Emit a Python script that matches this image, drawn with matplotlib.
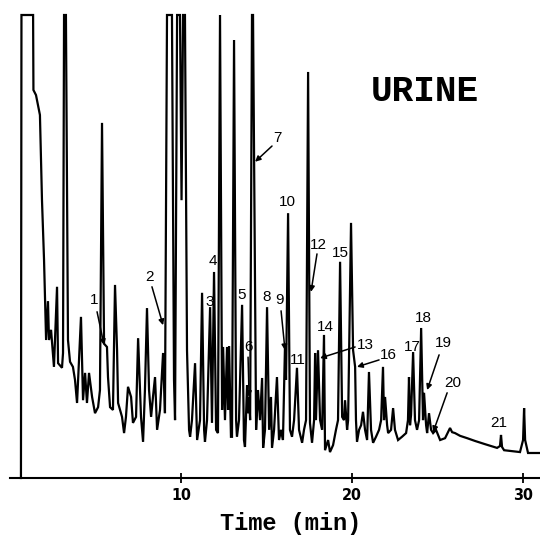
import matplotlib
matplotlib.use("Agg")
import matplotlib.pyplot as plt

# chromatogram trace (time in min, signal in % of full scale)
ret_time = [0.64, 0.67, 1.35, 1.37, 1.52, 1.75, 1.87, 1.99, 2.11, 2.22, 2.28, 2.40,
            2.57, 2.75, 2.81, 3.04, 3.10, 3.16, 3.27, 3.39, 3.51, 3.68, 3.80, 3.92,
            4.15, 4.27, 4.39, 4.50, 4.62, 4.80, 4.97, 5.15, 5.26, 5.38, 5.50, 5.67,
            5.73, 5.85, 6.02, 6.14, 6.26, 6.32, 6.55, 6.67, 6.78, 6.90, 7.08, 7.19,
            7.37, 7.49, 7.66, 7.78, 7.89, 8.01, 8.13, 8.25, 8.36, 8.48, 8.60, 8.77,
            8.95, 9.06, 9.18, 9.47, 9.59, 9.65, 9.77, 9.94, 10.03, 10.12, 10.23, 10.35,
            10.47, 10.53, 10.64, 10.82, 10.94, 11.11, 11.23, 11.35, 11.40, 11.52, 11.70, 11.81,
            11.93, 12.05, 12.16, 12.28, 12.40, 12.46, 12.57, 12.69, 12.75, 12.81, 12.92, 12.98,
            13.10, 13.22, 13.27, 13.39, 13.57, 13.68, 13.74, 13.86, 13.92, 13.98, 14.04, 14.15,
            14.21, 14.39, 14.50, 14.62, 14.74, 14.80, 14.91, 15.03, 15.15, 15.26, 15.32, 15.44,
            15.61, 15.73, 15.85, 15.96, 16.08, 16.14, 16.26, 16.37, 16.49, 16.61, 16.78, 16.90,
            17.08, 17.19, 17.31, 17.43, 17.54, 17.66, 17.78, 17.84, 17.89, 18.01, 18.13, 18.25,
            18.36, 18.42, 18.60, 18.71, 18.89, 19.06, 19.18, 19.30, 19.42, 19.53, 19.59, 19.71,
            19.77, 19.94, 20.06, 20.18, 20.23, 20.29, 20.41, 20.53, 20.64, 20.76, 20.88, 20.99,
            21.11, 21.23, 21.40, 21.58, 21.70, 21.81, 21.87, 21.93, 22.05, 22.11, 22.28, 22.40,
            22.51, 22.69, 22.92, 23.16, 23.27, 23.33, 23.39, 23.45, 23.57, 23.68, 23.80, 23.92,
            24.04, 24.15, 24.21, 24.33, 24.39, 24.50, 24.62, 24.74, 24.91, 25.15, 25.44, 25.61,
            25.73, 25.85, 26.02, 26.32, 26.73, 27.19, 27.78, 28.48, 28.65, 28.71, 28.77, 28.89,
            29.36, 29.82, 30.00, 30.06, 30.12, 30.29, 30.99]
signal = [0.0, 100, 100, 83.8, 82.7, 78.4, 60.0, 47.1, 29.8, 38.2, 29.8, 32.0,
          24.0, 41.3, 24.8, 23.8, 27.0, 100, 100, 29.8, 25.1, 24.0, 21.2, 16.2,
          34.8, 16.8, 22.7, 16.2, 22.7, 17.5, 14.0, 15.3, 19.0, 76.7, 29.0, 28.3,
          21.8, 15.3, 14.7, 41.7, 27.6, 16.2, 13.2, 9.7, 13.2, 19.7, 17.5, 11.9,
          13.2, 30.2, 13.2, 7.8, 19.0, 36.7, 19.0, 13.2, 17.5, 21.8, 10.4, 14.7,
          27.0, 14.0, 100, 100, 21.2, 12.5, 100, 100, 60.0, 100, 100, 27.6,
          10.4, 8.9, 12.5, 24.8, 8.2, 12.5, 40.0, 10.4, 7.8, 12.5, 36.9, 11.9,
          44.5, 10.4, 9.7, 100, 14.7, 28.3, 12.5, 28.3, 14.7, 28.5, 8.9, 8.9,
          94.6, 12.5, 8.9, 12.5, 37.4, 8.2, 6.7, 20.0, 14.0, 17.5, 12.5, 100,
          100, 10.4, 19.0, 12.5, 21.6, 6.5, 10.4, 36.9, 10.4, 17.5, 6.5, 10.4,
          21.8, 8.2, 10.4, 8.2, 28.7, 21.2, 57.2, 10.4, 8.9, 12.5, 23.8, 10.4,
          7.6, 10.4, 12.5, 87.7, 11.9, 7.6, 12.5, 27.0, 12.5, 27.6, 12.5, 10.4,
          30.9, 6.0, 8.2, 5.6, 7.1, 10.4, 12.5, 46.7, 13.2, 12.5, 16.8, 10.4,
          12.5, 55.1, 27.6, 24.0, 12.5, 7.8, 10.4, 11.4, 14.3, 10.4, 8.2, 22.9,
          10.4, 7.6, 8.9, 10.4, 12.5, 24.0, 12.5, 17.5, 11.4, 9.7, 10.4, 15.1,
          10.4, 8.2, 8.9, 9.7, 12.5, 21.8, 11.4, 13.6, 27.2, 12.5, 10.4, 12.5,
          32.4, 12.5, 18.4, 11.4, 9.7, 14.0, 10.4, 9.7, 10.4, 8.2, 8.6, 9.9,
          10.8, 9.9, 9.7, 9.1, 8.6, 8.0, 7.3, 6.5, 6.9, 9.3, 6.7, 6.0,
          5.8, 5.6, 8.2, 15.1, 8.2, 5.4, 5.4]

peak_ids = ["1", "2", "3", "4", "5", "6", "7", "8", "9", "10", "11",
            "12", "13", "14", "15", "16", "17", "18", "19", "20", "21"]
tick_vals = [10, 20, 30]

# where each number sits, and where its arrow points
label_xy = [(4.91, 38.4), (8.13, 43.4), (11.70, 38.0), (11.87, 46.9), (13.57, 39.5),
            (13.92, 28.3), (15.61, 73.4), (15.03, 39.1), (15.73, 38.4), (16.20, 59.6),
            (16.84, 25.5), (18.01, 50.3), (20.76, 28.7), (18.42, 32.6), (19.30, 48.6),
            (22.11, 26.6), (23.51, 28.3), (24.15, 34.6), (25.32, 29.2), (25.91, 20.5),
            (28.60, 11.9)]
arrows = {"1": ((5.09, 35.9), (5.50, 28.7)),
          "2": ((8.30, 41.3), (8.95, 33.0)),
          "6": ((13.92, 26.1), (13.98, 17.5)),
          "7": ((15.32, 71.7), (14.33, 68.3)),
          "9": ((15.85, 36.1), (16.08, 27.6)),
          "12": ((17.95, 48.4), (17.60, 40.2)),
          "13": ((20.18, 28.3), (18.13, 25.9)),
          "16": ((21.58, 25.5), (20.29, 24.0)),
          "19": ((25.09, 26.6), (24.39, 19.0)),
          "20": ((25.56, 18.4), (24.74, 9.9))}

fig = plt.figure(figsize=(5.4, 5.38), dpi=100)
ax = fig.add_axes([0, 0, 1, 1])
ax.set_xlim(-0.585, 30.99)
ax.set_ylim(-12.96, 103.24)

ax.plot(ret_time, signal, color="black", lw=1.6, solid_joinstyle="miter")

for s in ["top", "right", "left"]:
    ax.spines[s].set_visible(False)
ax.spines["bottom"].set_position(("data", 0))
ax.spines["bottom"].set_bounds(0, 31)
ax.spines["bottom"].set_linewidth(1.5)
ax.set_yticks([])
ax.set_xticks(tick_vals)
ax.set_xticklabels([str(v) for v in tick_vals], family="DejaVu Sans",
                   fontstretch="condensed", fontweight="bold", fontsize=11.5)
ax.tick_params(axis="x", direction="inout", length=7, width=1.3, pad=4)
ax.set_xlabel("Time (min)", family="Liberation Mono", fontweight="bold", fontsize=17)
ax.xaxis.set_label_coords(0.539, 0.048)

for pid, (x, y) in zip(peak_ids, label_xy):
    ax.text(x, y, pid, ha="center", va="center", fontsize=11, family="Liberation Sans")
    if pid in arrows:
        (x0, y0), (x1, y1) = arrows[pid]
        ax.annotate("", xy=(x1, y1), xytext=(x0, y0),
                    arrowprops=dict(arrowstyle="-|>", lw=1.1, color="black",
                                    mutation_scale=8, shrinkA=0, shrinkB=0))

ax.text(24.27, 83.4, "URINE", ha="center", va="center", fontsize=26,
        family="Liberation Mono", fontweight="bold")

fig.savefig("out.png", dpi=100)
